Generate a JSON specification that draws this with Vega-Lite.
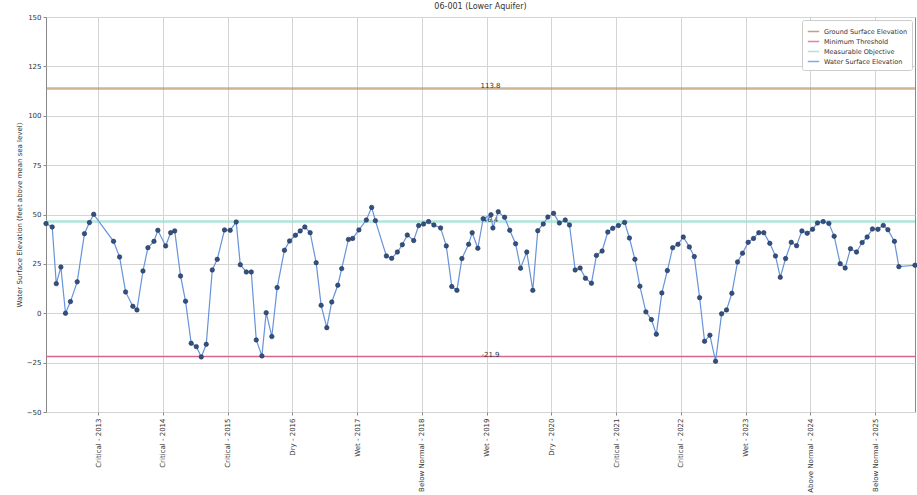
{
  "$schema": "https://vega.github.io/schema/vega-lite/v6.json",
  "width": 869,
  "height": 395,
  "autosize": {"type": "none"},
  "padding": {"left": 46, "top": 17, "right": 2, "bottom": 83},
  "background": "white",
  "title": {"text": "06-001 (Lower Aquifer)", "fontSize": 8, "fontWeight": "normal", "font": "DejaVu Sans", "offset": 2, "color": "#333"},
  "config": {"view": {"stroke": "#888", "strokeWidth": 1}, "font": "DejaVu Sans"},
  "datasets": {
    "wse": [
      {"date": "2012-03-13", "wse": 45.4}, {"date": "2012-04-17", "wse": 43.7}, {"date": "2012-05-10", "wse": 15.0}, {"date": "2012-06-05", "wse": 23.4},
      {"date": "2012-07-01", "wse": 0.0}, {"date": "2012-07-29", "wse": 5.9}, {"date": "2012-09-05", "wse": 15.9}, {"date": "2012-10-16", "wse": 40.3},
      {"date": "2012-11-13", "wse": 45.9}, {"date": "2012-12-07", "wse": 50.1}, {"date": "2013-03-29", "wse": 36.4}, {"date": "2013-05-02", "wse": 28.5},
      {"date": "2013-06-05", "wse": 10.8}, {"date": "2013-07-16", "wse": 3.5}, {"date": "2013-08-08", "wse": 1.7}, {"date": "2013-09-11", "wse": 21.4},
      {"date": "2013-10-09", "wse": 33.2}, {"date": "2013-11-12", "wse": 36.4}, {"date": "2013-12-04", "wse": 42.0}, {"date": "2014-01-17", "wse": 34.1},
      {"date": "2014-02-14", "wse": 40.8}, {"date": "2014-03-09", "wse": 41.7}, {"date": "2014-04-11", "wse": 18.9}, {"date": "2014-05-09", "wse": 6.1},
      {"date": "2014-06-10", "wse": -15.2}, {"date": "2014-07-09", "wse": -16.9}, {"date": "2014-08-06", "wse": -22.1}, {"date": "2014-09-03", "wse": -15.7},
      {"date": "2014-10-07", "wse": 21.9}, {"date": "2014-11-04", "wse": 27.3}, {"date": "2014-12-15", "wse": 42.2}, {"date": "2015-01-16", "wse": 42.0},
      {"date": "2015-02-19", "wse": 46.2}, {"date": "2015-03-14", "wse": 24.6}, {"date": "2015-04-17", "wse": 20.9}, {"date": "2015-05-15", "wse": 20.9},
      {"date": "2015-06-12", "wse": -13.5}, {"date": "2015-07-14", "wse": -21.6}, {"date": "2015-08-07", "wse": 0.3}, {"date": "2015-09-08", "wse": -11.8},
      {"date": "2015-10-08", "wse": 13.0}, {"date": "2015-11-18", "wse": 31.9}, {"date": "2015-12-17", "wse": 36.6}, {"date": "2016-01-19", "wse": 39.5},
      {"date": "2016-02-15", "wse": 41.7}, {"date": "2016-03-12", "wse": 43.7}, {"date": "2016-04-11", "wse": 40.8}, {"date": "2016-05-15", "wse": 25.6},
      {"date": "2016-06-12", "wse": 4.0}, {"date": "2016-07-14", "wse": -7.3}, {"date": "2016-08-11", "wse": 5.7}, {"date": "2016-09-14", "wse": 14.2},
      {"date": "2016-10-06", "wse": 22.6}, {"date": "2016-11-13", "wse": 37.4}, {"date": "2016-12-07", "wse": 37.9}, {"date": "2017-01-11", "wse": 42.2},
      {"date": "2017-02-22", "wse": 47.2}, {"date": "2017-03-24", "wse": 53.6}, {"date": "2017-04-14", "wse": 46.9}, {"date": "2017-06-15", "wse": 29.0},
      {"date": "2017-07-15", "wse": 27.8}, {"date": "2017-08-16", "wse": 31.0}, {"date": "2017-09-13", "wse": 34.7}, {"date": "2017-10-11", "wse": 39.6},
      {"date": "2017-11-16", "wse": 36.8}, {"date": "2017-12-14", "wse": 44.4}, {"date": "2018-01-11", "wse": 45.2}, {"date": "2018-02-08", "wse": 46.4},
      {"date": "2018-03-10", "wse": 44.7}, {"date": "2018-04-17", "wse": 43.2}, {"date": "2018-05-19", "wse": 34.1}, {"date": "2018-06-19", "wse": 13.5},
      {"date": "2018-07-18", "wse": 11.6}, {"date": "2018-08-15", "wse": 27.7}, {"date": "2018-09-22", "wse": 34.9}, {"date": "2018-10-12", "wse": 40.8},
      {"date": "2018-11-13", "wse": 32.9}, {"date": "2018-12-13", "wse": 47.9}, {"date": "2019-01-26", "wse": 49.9}, {"date": "2019-02-06", "wse": 43.2},
      {"date": "2019-03-08", "wse": 51.4}, {"date": "2019-04-13", "wse": 48.6}, {"date": "2019-05-12", "wse": 42.0}, {"date": "2019-06-14", "wse": 35.2},
      {"date": "2019-07-12", "wse": 22.8}, {"date": "2019-08-16", "wse": 31.0}, {"date": "2019-09-19", "wse": 11.6}, {"date": "2019-10-17", "wse": 41.8},
      {"date": "2019-11-17", "wse": 45.2}, {"date": "2019-12-13", "wse": 48.7}, {"date": "2020-01-14", "wse": 50.6}, {"date": "2020-02-16", "wse": 45.7},
      {"date": "2020-03-20", "wse": 47.2}, {"date": "2020-04-13", "wse": 44.7}, {"date": "2020-05-15", "wse": 21.9}, {"date": "2020-06-12", "wse": 22.9},
      {"date": "2020-07-12", "wse": 17.7}, {"date": "2020-08-15", "wse": 15.2}, {"date": "2020-09-12", "wse": 29.3}, {"date": "2020-10-14", "wse": 31.5},
      {"date": "2020-11-15", "wse": 41.1}, {"date": "2020-12-13", "wse": 43.0}, {"date": "2021-01-14", "wse": 44.4}, {"date": "2021-02-18", "wse": 46.0},
      {"date": "2021-03-17", "wse": 38.1}, {"date": "2021-04-17", "wse": 27.3}, {"date": "2021-05-15", "wse": 13.7}, {"date": "2021-06-18", "wse": 0.7},
      {"date": "2021-07-19", "wse": -3.2}, {"date": "2021-08-16", "wse": -10.6}, {"date": "2021-09-16", "wse": 10.3}, {"date": "2021-10-17", "wse": 21.6},
      {"date": "2021-11-16", "wse": 33.2}, {"date": "2021-12-16", "wse": 34.9}, {"date": "2022-01-15", "wse": 38.6}, {"date": "2022-02-18", "wse": 33.6},
      {"date": "2022-03-18", "wse": 28.7}, {"date": "2022-04-17", "wse": 7.9}, {"date": "2022-05-15", "wse": -14.2}, {"date": "2022-06-14", "wse": -11.1},
      {"date": "2022-07-16", "wse": -24.3}, {"date": "2022-08-19", "wse": -0.3}, {"date": "2022-09-16", "wse": 1.7}, {"date": "2022-10-16", "wse": 10.1},
      {"date": "2022-11-17", "wse": 26.0}, {"date": "2022-12-15", "wse": 30.4}, {"date": "2023-01-16", "wse": 35.9}, {"date": "2023-02-15", "wse": 37.9},
      {"date": "2023-03-17", "wse": 40.8}, {"date": "2023-04-14", "wse": 40.8}, {"date": "2023-05-18", "wse": 35.4}, {"date": "2023-06-19", "wse": 29.0},
      {"date": "2023-07-16", "wse": 18.2}, {"date": "2023-08-15", "wse": 27.7}, {"date": "2023-09-16", "wse": 35.9}, {"date": "2023-10-16", "wse": 34.2},
      {"date": "2023-11-15", "wse": 41.7}, {"date": "2023-12-15", "wse": 40.5}, {"date": "2024-01-14", "wse": 42.5}, {"date": "2024-02-11", "wse": 45.7},
      {"date": "2024-03-14", "wse": 46.4}, {"date": "2024-04-15", "wse": 45.5}, {"date": "2024-05-15", "wse": 39.0}, {"date": "2024-06-18", "wse": 25.1},
      {"date": "2024-07-16", "wse": 22.9}, {"date": "2024-08-15", "wse": 32.7}, {"date": "2024-09-18", "wse": 31.0}, {"date": "2024-10-20", "wse": 35.8},
      {"date": "2024-11-17", "wse": 38.6}, {"date": "2024-12-17", "wse": 42.7}, {"date": "2025-01-17", "wse": 42.5}, {"date": "2025-02-16", "wse": 44.5},
      {"date": "2025-03-14", "wse": 42.3}, {"date": "2025-04-20", "wse": 36.4}, {"date": "2025-05-15", "wse": 23.6}, {"date": "2025-08-14", "wse": 24.3}
    ],
    "ref": [
      {"series": "Ground Surface Elevation", "value": 113.8, "label": "113.8"},
      {"series": "Minimum Threshold", "value": -21.9, "label": "-21.9"},
      {"series": "Measurable Objective", "value": 46.4, "label": "46.4"}
    ]
  },
  "encoding": {
    "x": {
      "field": "date", "type": "temporal",
      "scale": {"type": "utc"},
      "axis": {
        "title": null,
        "values": [
          {"year": 2013, "month": 1, "date": 1, "utc": true}, {"year": 2014, "month": 1, "date": 1, "utc": true},
          {"year": 2015, "month": 1, "date": 1, "utc": true}, {"year": 2016, "month": 1, "date": 1, "utc": true},
          {"year": 2017, "month": 1, "date": 1, "utc": true}, {"year": 2018, "month": 1, "date": 1, "utc": true},
          {"year": 2019, "month": 1, "date": 1, "utc": true}, {"year": 2020, "month": 1, "date": 1, "utc": true},
          {"year": 2021, "month": 1, "date": 1, "utc": true}, {"year": 2022, "month": 1, "date": 1, "utc": true},
          {"year": 2023, "month": 1, "date": 1, "utc": true}, {"year": 2024, "month": 1, "date": 1, "utc": true},
          {"year": 2025, "month": 1, "date": 1, "utc": true}
        ],
        "labelExpr": "['Critical','Critical','Critical','Dry','Wet','Below Normal','Wet','Dry','Critical','Critical','Wet','Above Normal','Below Normal'][utcyear(datum.value)-2013] + ' - ' + utcyear(datum.value)",
        "labelAngle": -90,
        "labelFontSize": 7,
        "labelColor": "#333",
        "labelPadding": 3,
        "labelOverlap": false,
        "labelFlush": false,
        "tickSize": 3,
        "tickColor": "#888",
        "domain": false,
        "grid": true,
        "gridColor": "#d4d4d4",
        "gridWidth": 1
      }
    }
  },
  "layer": [
    {
      "data": {"name": "ref"},
      "transform": [{"filter": "datum.series === 'Ground Surface Elevation'"}],
      "mark": {"type": "rule", "strokeWidth": 2.5, "opacity": 0.65},
      "encoding": {
        "x": null,
        "y": {"field": "value", "type": "quantitative"},
        "color": {
          "field": "series", "type": "nominal",
          "scale": {
            "domain": ["Ground Surface Elevation", "Minimum Threshold", "Measurable Objective", "Water Surface Elevation"],
            "range": ["#b58a60", "#d9668a", "#98e0d3", "#6693db"]
          },
          "legend": {
            "title": null,
            "orient": "top-right",
            "offset": 3,
            "fillColor": "white",
            "strokeColor": "#cccccc",
            "cornerRadius": 2,
            "padding": 5,
            "rowPadding": 0,
            "labelFontSize": 6.5,
            "labelColor": "#333",
            "labelOffset": 4,
            "symbolType": "stroke",
            "symbolSize": 130,
            "symbolStrokeWidth": 1.5,
            "symbolOpacity": 0.85
          }
        }
      }
    },
    {
      "data": {"name": "ref"},
      "transform": [{"filter": "datum.series === 'Minimum Threshold'"}],
      "mark": {"type": "rule", "strokeWidth": 1.5},
      "encoding": {
        "x": null,
        "y": {"field": "value", "type": "quantitative"},
        "color": {"field": "series", "type": "nominal"}
      }
    },
    {
      "data": {"name": "ref"},
      "transform": [{"filter": "datum.series === 'Measurable Objective'"}],
      "mark": {"type": "rule", "strokeWidth": 2.5, "opacity": 0.8},
      "encoding": {
        "x": null,
        "y": {"field": "value", "type": "quantitative"},
        "color": {"field": "series", "type": "nominal"}
      }
    },
    {
      "data": {"name": "ref"},
      "mark": {"type": "text", "fontSize": 7, "fill": "#333", "baseline": "middle", "align": "center", "dy": -2, "dx": 10},
      "encoding": {
        "x": null,
        "y": {"field": "value", "type": "quantitative"},
        "text": {"field": "label", "type": "nominal"}
      }
    },
    {
      "data": {"name": "wse"},
      "mark": {"type": "line", "strokeWidth": 1.2},
      "encoding": {
        "y": {
          "field": "wse", "type": "quantitative",
          "scale": {"domain": [-50, 150], "nice": false, "zero": false},
          "axis": {
            "title": "Water Surface Elevation (feet above mean sea level)",
            "titleFontSize": 7, "titleFontWeight": "normal", "titleColor": "#333", "titlePadding": 4,
            "values": [-50, -25, 0, 25, 50, 75, 100, 125, 150],
            "labelFontSize": 7, "labelColor": "#333", "labelPadding": 2,
            "tickSize": 3, "tickColor": "#888", "domain": false,
            "grid": true, "gridColor": "#d4d4d4"
          }
        },
        "color": {"datum": "Water Surface Elevation", "type": "nominal"}
      }
    },
    {
      "data": {"name": "wse"},
      "mark": {"type": "point", "filled": true, "size": 20, "color": "#34507e", "stroke": "#1e3258", "strokeWidth": 0.6, "opacity": 1},
      "encoding": {
        "y": {"field": "wse", "type": "quantitative"}
      }
    }
  ],
  "resolve": {"scale": {"color": "shared"}}
}
